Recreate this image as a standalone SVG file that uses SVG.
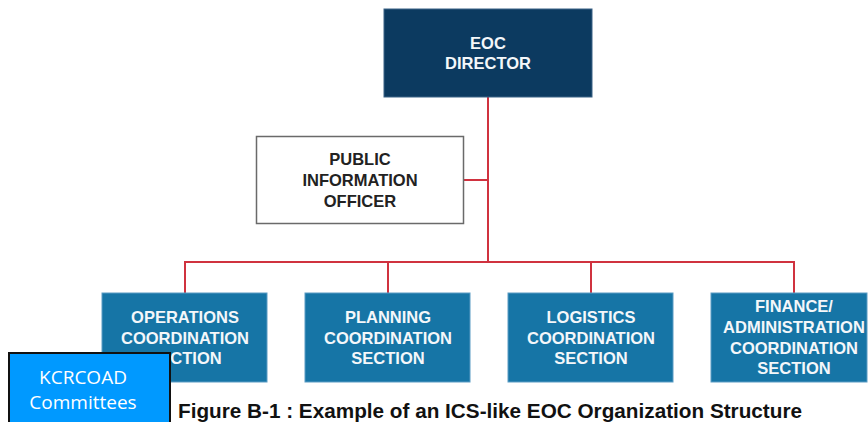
<svg xmlns="http://www.w3.org/2000/svg" width="868" height="422" viewBox="0 0 868 422">
<style>
.t{font-family:"Liberation Sans",Arial,sans-serif;font-weight:bold;font-size:16.5px;text-anchor:middle}
.w{fill:#f4f7fa}
.sec{fill:#1675a6;stroke:#5a9cc4;stroke-width:1}
.ln{stroke:#d0323f;stroke-width:2;fill:none}
</style>
<rect width="868" height="422" fill="#ffffff"/>
<g id="connectors">
<path class="ln" d="M488 97 V262 M463 180 H488 M185 293 V262 H794 V293 M388 262 V293 M591 262 V293"/>
</g>
<g id="eoc-director">
<rect x="384" y="9" width="208" height="88" fill="#0c3a60" stroke="#3a6286" stroke-width="1"/>
<text class="t w" x="488" y="49">EOC</text>
<text class="t w" x="488" y="69">DIRECTOR</text>
</g>
<g id="pio">
<rect x="256.5" y="136.5" width="207" height="87" fill="#ffffff" stroke="#6a6a6a" stroke-width="1.5"/>
<text class="t" fill="#222" x="360" y="165">PUBLIC</text>
<text class="t" fill="#222" x="360" y="186">INFORMATION</text>
<text class="t" fill="#222" x="360" y="207">OFFICER</text>
</g>
<g id="operations">
<rect class="sec" x="102" y="293" width="165" height="89"/>
<text class="t w" x="185" y="323">OPERATIONS</text>
<text class="t w" x="185" y="344">COORDINATION</text>
<text class="t w" x="185" y="364">SECTION</text>
</g>
<g id="planning">
<rect class="sec" x="305" y="293" width="165" height="89"/>
<text class="t w" x="388" y="323">PLANNING</text>
<text class="t w" x="388" y="344">COORDINATION</text>
<text class="t w" x="388" y="364">SECTION</text>
</g>
<g id="logistics">
<rect class="sec" x="508" y="293" width="165" height="89"/>
<text class="t w" x="591" y="323">LOGISTICS</text>
<text class="t w" x="591" y="344">COORDINATION</text>
<text class="t w" x="591" y="364">SECTION</text>
</g>
<g id="finance">
<rect class="sec" x="711" y="293" width="156" height="89"/>
<text class="t w" x="794" y="312">FINANCE/</text>
<text class="t w" x="794" y="333">ADMINISTRATION</text>
<text class="t w" x="794" y="354">COORDINATION</text>
<text class="t w" x="794" y="374">SECTION</text>
</g>
<text x="178" y="418" font-family="Liberation Sans,Arial,sans-serif" font-weight="bold" font-size="20.5" fill="#111" textLength="624" lengthAdjust="spacingAndGlyphs">Figure B-1 : Example of an ICS-like EOC Organization Structure</text>
<g id="kcrcoad">
<rect x="9" y="353" width="161" height="72" fill="#0099ff" stroke="#111" stroke-width="2"/>
<text x="83" y="384" font-family="Open Sans,Liberation Sans,sans-serif" font-size="19" fill="#ffffff" text-anchor="middle">KCRCOAD</text>
<text x="83" y="409" font-family="Open Sans,Liberation Sans,sans-serif" font-size="19" fill="#ffffff" text-anchor="middle">Committees</text>
</g>
</svg>
